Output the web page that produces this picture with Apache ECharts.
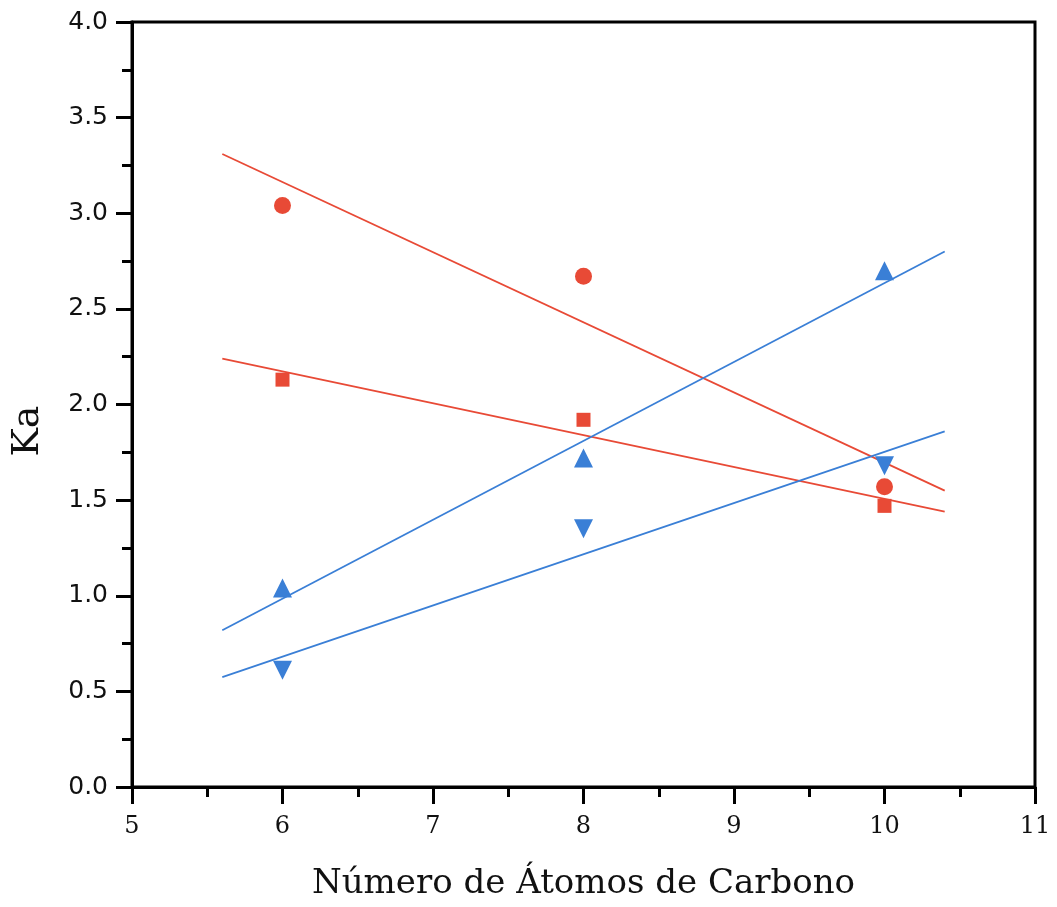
<!DOCTYPE html>
<html>
<head>
<meta charset="utf-8">
<script src="https://cdn.jsdelivr.net/npm/echarts@6/dist/echarts.min.js"></script>
<style>
  html, body { margin: 0; padding: 0; background: #fff; }
  #chart { width: 1057px; height: 907px; }
</style>
</head>
<body>
<div id="chart"></div>
<script>
// carbon atoms
var carbonos = [6, 8, 10];
// Ka values per series
var kaCirculo = [3.04, 2.67, 1.57];
var kaCuadrado = [2.13, 1.92, 1.47];
var kaTrianguloArriba = [1.04, 1.72, 2.70];
var kaTrianguloAbajo = [0.61, 1.35, 1.68];
// fitted line ends
var ajusteX = [5.6, 10.4];
var ajusteCirculo = [3.31, 1.55];
var ajusteCuadrado = [2.24, 1.44];
var ajusteArriba = [0.82, 2.80];
var ajusteAbajo = [0.575, 1.86];

var rojo = '#e84a36';
var azul = '#3a7fd6';

function pares(xs, ys) {
  return xs.map(function (x, i) { return [x, ys[i]]; });
}

function puntos(ys, simbolo, color, size, rot) {
  return {
    type: 'scatter',
    data: pares(carbonos, ys),
    symbol: simbolo,
    symbolSize: size,
    symbolRotate: rot || 0,
    itemStyle: { color: color, opacity: 1 },
    z: 5
  };
}

function linea(ys, color) {
  return {
    type: 'line',
    data: pares(ajusteX, ys),
    symbol: 'none',
    lineStyle: { color: color, width: 1.8 },
    z: 4
  };
}

var chart = echarts.init(document.getElementById('chart'));
chart.setOption({
  animation: false,
  grid: {
    left: 132, top: 22, right: 22, bottom: 120,
    outerBoundsMode: 'none',
    show: true, borderColor: '#000', borderWidth: 3
  },
  graphic: [{
    type: 'text',
    x: 28, y: 431,
    rotation: Math.PI / 2,
    style: {
      text: 'Ka',
      font: '38px "DejaVu Serif"',
      fill: '#111',
      align: 'center',
      verticalAlign: 'middle'
    }
  }],
  xAxis: {
    type: 'value', min: 5, max: 11, interval: 1,
    name: 'Número de Átomos de Carbono',
    nameLocation: 'middle', nameGap: 80,
    nameTextStyle: { fontFamily: 'DejaVu Serif', fontSize: 34, color: '#111' },
    axisLine: { lineStyle: { color: '#000', width: 3 } },
    axisTick: { show: true, inside: false, length: 17, lineStyle: { color: '#000', width: 3 } },
    minorTick: { show: true, splitNumber: 2, length: 10, lineStyle: { color: '#000', width: 3 } },
    splitLine: { show: false },
    axisLabel: { fontFamily: 'DejaVu Serif', fontSize: 24, color: '#111', margin: 28 }
  },
  yAxis: {
    type: 'value', min: 0, max: 4, interval: 0.5,
    axisLine: { lineStyle: { color: '#000', width: 3 } },
    axisTick: { show: true, inside: false, length: 16, lineStyle: { color: '#000', width: 3 } },
    minorTick: { show: true, splitNumber: 2, length: 10, lineStyle: { color: '#000', width: 3 } },
    splitLine: { show: false },
    axisLabel: {
      fontFamily: 'DejaVu Sans', fontSize: 25, color: '#111', margin: 24,
      formatter: function (v) { return v.toFixed(1); }
    }
  },
  series: [
    linea(ajusteCirculo, rojo),
    linea(ajusteCuadrado, rojo),
    linea(ajusteArriba, azul),
    linea(ajusteAbajo, azul),
    puntos(kaCirculo, 'circle', rojo, 17),
    puntos(kaCuadrado, 'rect', rojo, 14),
    puntos(kaTrianguloArriba, 'triangle', azul, 19),
    puntos(kaTrianguloAbajo, 'triangle', azul, 19, 180)
  ]
});
</script>
</body>
</html>
